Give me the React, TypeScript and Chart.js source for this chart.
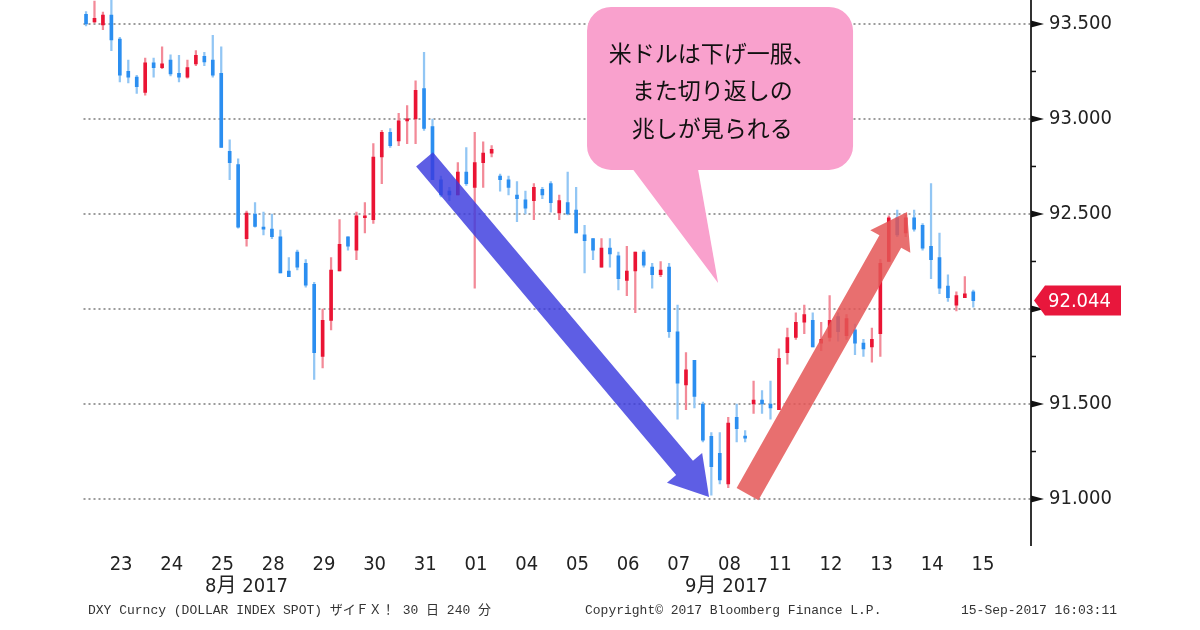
import React, { useEffect, useRef } from "react";
import { Chart, registerables } from "chart.js";

Chart.register(...registerables);

// ---- data (DXY, 240-minute bars) ----
const opens = [
  93.55, 93.51, 93.495, 93.547, 93.42, 93.25, 93.22, 93.14, 93.295, 93.27,
  93.31, 93.24, 93.22, 93.29, 93.33, 93.31, 93.24, 92.83, 92.76, 92.37,
  92.5, 92.43, 92.42, 92.38, 92.2, 92.3, 92.24, 92.13, 91.75, 91.94,
  92.2, 92.38, 92.31, 92.48, 92.47, 92.8, 92.93, 92.885, 92.99, 93.0,
  93.16, 92.96, 92.68, 92.62, 92.6, 92.72, 92.64, 92.77, 92.82, 92.7,
  92.68, 92.6, 92.575, 92.57, 92.63, 92.66, 92.505, 92.56, 92.52, 92.39,
  92.37, 92.22, 92.32, 92.28, 92.15, 92.2, 92.3, 92.22, 92.18, 92.22,
  91.88, 91.6, 91.73, 91.5, 91.33, 91.24, 91.08, 91.43, 91.33, 91.5,
  91.52, 91.5, 91.47, 91.77, 91.85, 91.93, 91.94, 91.82, 91.85, 91.96,
  91.86, 91.89, 91.82, 91.8, 91.87, 92.25, 92.48, 92.4, 92.48, 92.44,
  92.33, 92.27, 92.12, 92.02, 92.06, 92.09,
];
const highs = [
  93.565, 93.62, 93.563, 93.63, 93.43, 93.31, 93.23, 93.32, 93.32, 93.38,
  93.337, 93.335, 93.31, 93.36, 93.35, 93.44, 93.38, 92.89, 92.79, 92.515,
  92.56, 92.51, 92.5, 92.415, 92.27, 92.31, 92.26, 92.14, 92.0, 92.27,
  92.47, 92.38, 92.51, 92.56, 92.87, 92.94, 92.95, 93.03, 93.07, 93.2,
  93.35, 93.0, 92.7, 92.64, 92.77, 92.85, 92.93, 92.88, 92.86, 92.71,
  92.7, 92.67, 92.62, 92.66, 92.64, 92.67, 92.6, 92.72, 92.64, 92.44,
  92.37, 92.37, 92.37, 92.3, 92.33, 92.3, 92.31, 92.24, 92.25, 92.24,
  92.02, 91.77, 91.73, 91.51, 91.35, 91.35, 91.43, 91.5, 91.36, 91.62,
  91.57, 91.62, 91.79, 91.9, 91.98, 92.02, 91.98, 91.93, 92.07, 91.98,
  91.97, 91.92, 91.84, 91.9, 92.26, 92.49, 92.52, 92.5, 92.52, 92.45,
  92.66, 92.4, 92.18, 92.09, 92.17, 92.1,
];
const lows = [
  93.49, 93.505, 93.47, 93.36, 93.195, 93.19, 93.135, 93.125, 93.22, 93.265,
  93.226, 93.195, 93.215, 93.28, 93.28, 93.22, 92.85, 92.68, 92.425, 92.33,
  92.43, 92.39, 92.37, 92.19, 92.17, 92.205, 92.115, 91.63, 91.69, 91.89,
  92.2, 92.31, 92.26, 92.4, 92.45, 92.66, 92.85, 92.86, 92.87, 92.87,
  92.94, 92.68, 92.59, 92.57, 92.6, 92.65, 92.11, 92.64, 92.8, 92.62,
  92.6, 92.46, 92.5, 92.47, 92.58, 92.51, 92.47, 92.495, 92.4, 92.19,
  92.26, 92.22, 92.22, 92.1, 92.07, 91.98, 92.22, 92.11, 92.17, 91.85,
  91.42, 91.47, 91.48, 91.3, 91.02, 91.08, 91.06, 91.3, 91.3, 91.45,
  91.45, 91.42, 91.47, 91.71, 91.84, 91.87, 91.8, 91.78, 91.83, 91.83,
  91.84, 91.76, 91.75, 91.72, 91.75, 92.25, 92.38, 92.38, 92.41, 92.31,
  92.16, 92.08, 92.04, 91.99, 92.06, 92.01,
];
const closes = [
  93.5, 93.53, 93.547, 93.416, 93.23, 93.22, 93.17, 93.295, 93.27, 93.29,
  93.237, 93.22, 93.27, 93.335, 93.3, 93.23, 92.85, 92.77, 92.43, 92.505,
  92.435, 92.42, 92.38, 92.19, 92.17, 92.22, 92.125, 91.77, 91.94, 92.205,
  92.34, 92.33, 92.49, 92.49, 92.8, 92.93, 92.86, 92.99, 93.0, 93.15,
  92.95, 92.68, 92.6, 92.6, 92.72, 92.66, 92.77, 92.82, 92.84, 92.68,
  92.64, 92.58, 92.53, 92.64, 92.6, 92.56, 92.57, 92.5, 92.4, 92.36,
  92.31, 92.32, 92.29, 92.16, 92.2, 92.3, 92.23, 92.18, 92.205, 91.88,
  91.61, 91.68, 91.54, 91.31, 91.17, 91.1, 91.4, 91.37, 91.32, 91.52,
  91.5, 91.48, 91.74, 91.85, 91.93, 91.97, 91.8, 91.84, 91.94, 91.88,
  91.95, 91.82, 91.79, 91.84, 92.24, 92.48, 92.39, 92.48, 92.42, 92.32,
  92.26, 92.11, 92.06, 92.07, 92.08, 92.044,
];

const dayLabels = [
  "23", "24", "25", "28", "29", "30", "31", "01", "04",
  "05", "06", "07", "08", "11", "12", "13", "14", "15",
];
const barsPerDay = 6;
const firstDayCenter = 4.15;
const monthLabels = ["8月 2017", "9月 2017"];
const monthPositions = [19.0, 75.8];
const yTicks = [91.0, 91.5, 92.0, 92.5, 93.0, 93.5];
const yMinorTicks = [91.25, 91.75, 92.25, 92.75, 93.25];
const bubbleLines = ["米ドルは下げ一服、", "また切り返しの", "兆しが見られる"];
const footLeft = "DXY Curncy (DOLLAR INDEX SPOT) ザイＦＸ！ 30 日 240 分";
const footMid = "Copyright© 2017 Bloomberg Finance L.P.";
const footRight = "15-Sep-2017 16:03:11";

// ---- annotation anchors (bar index, price) ----
const blueArrow = { from: [40.06, 92.787], to: [73.73, 91.011], shaft: 22, headW: 46, headL: 38 };
const redArrow = { from: [78.28, 91.026], to: [97.16, 92.511], shaft: 25, headW: 46, headL: 34 };
const bubble = {
  left: 59.29, right: 90.77, top: 93.589, bottom: 92.732, radius: 24,
  tailA: 64.6, tailB: 72.4, tipX: 74.8, tipY: 92.137,
  textX: 74.1, lineY: [93.347, 93.153, 92.953],
};

const UP_BODY = "#ea1434";
const UP_WICK = "#f38a98";
const DN_BODY = "#2b8ef0";
const DN_WICK = "#92c6f4";
const AXIS_FONT = "'DejaVu Sans Condensed', 'DejaVu Sans', 'Noto Sans CJK JP', sans-serif";

function drawArrow(ctx: CanvasRenderingContext2D, x0: number, y0: number, x1: number, y1: number,
  shaft: number, headW: number, headL: number, color: string) {
  const dx = x1 - x0, dy = y1 - y0;
  const len = Math.hypot(dx, dy);
  const ux = dx / len, uy = dy / len;
  const nx = -uy, ny = ux;
  const bx = x1 - ux * headL, by = y1 - uy * headL;
  ctx.beginPath();
  ctx.moveTo(x0 + nx * shaft / 2, y0 + ny * shaft / 2);
  ctx.lineTo(bx + nx * shaft / 2, by + ny * shaft / 2);
  ctx.lineTo(bx + nx * headW / 2, by + ny * headW / 2);
  ctx.lineTo(x1, y1);
  ctx.lineTo(bx - nx * headW / 2, by - ny * headW / 2);
  ctx.lineTo(bx - nx * shaft / 2, by - ny * shaft / 2);
  ctx.lineTo(x0 - nx * shaft / 2, y0 - ny * shaft / 2);
  ctx.closePath();
  ctx.fillStyle = color;
  ctx.fill();
}

const decoPlugin = {
  id: "deco",
  afterDatasetsDraw(chart: any) {
    const ctx: CanvasRenderingContext2D = chart.ctx;
    const xs = chart.scales.x, ys = chart.scales.y;
    const px = (v: number) => xs.getPixelForValue(v);
    const py = (v: number) => ys.getPixelForValue(v);
    ctx.save();
    drawArrow(ctx, px(blueArrow.from[0]), py(blueArrow.from[1]), px(blueArrow.to[0]), py(blueArrow.to[1]),
      blueArrow.shaft, blueArrow.headW, blueArrow.headL, "rgba(58,58,222,0.82)");
    drawArrow(ctx, px(redArrow.from[0]), py(redArrow.from[1]), px(redArrow.to[0]), py(redArrow.to[1]),
      redArrow.shaft, redArrow.headW, redArrow.headL, "rgba(228,86,86,0.85)");

    // speech bubble
    const l = px(bubble.left), r = px(bubble.right), t = py(bubble.top), b = py(bubble.bottom);
    ctx.fillStyle = "#f9a1cd";
    ctx.beginPath();
    (ctx as any).roundRect(l, t, r - l, b - t, bubble.radius);
    ctx.fill();
    ctx.beginPath();
    ctx.moveTo(px(bubble.tailA), b - 2);
    ctx.lineTo(px(bubble.tipX), py(bubble.tipY));
    ctx.lineTo(px(bubble.tailB), b - 2);
    ctx.closePath();
    ctx.fill();
    ctx.fillStyle = "#111";
    ctx.font = "23px 'Noto Sans CJK JP', sans-serif";
    ctx.textAlign = "center";
    ctx.textBaseline = "middle";
    bubbleLines.forEach((line, k) => ctx.fillText(line, px(bubble.textX), py(bubble.lineY[k])));
    ctx.restore();
  },
  afterDraw(chart: any) {
    const ctx: CanvasRenderingContext2D = chart.ctx;
    const xs = chart.scales.x, ys = chart.scales.y;
    const ax = ys.left;
    ctx.save();
    // axis markers
    ctx.fillStyle = "#111";
    yTicks.forEach((v) => {
      const y = ys.getPixelForValue(v);
      ctx.beginPath();
      ctx.moveTo(ax, y - 3.5);
      ctx.lineTo(ax + 13, y);
      ctx.lineTo(ax, y + 3.5);
      ctx.closePath();
      ctx.fill();
    });
    yMinorTicks.forEach((v) => {
      const y = ys.getPixelForValue(v);
      ctx.fillRect(ax, y - 0.75, 5, 1.5);
    });
    // last price tag
    const last = closes[closes.length - 1];
    const ty = ys.getPixelForValue(last);
    ctx.fillStyle = "#e8173c";
    ctx.beginPath();
    ctx.moveTo(ax + 3, ty);
    ctx.lineTo(ax + 14, ty - 15);
    ctx.lineTo(ax + 90, ty - 15);
    ctx.lineTo(ax + 90, ty + 15);
    ctx.lineTo(ax + 14, ty + 15);
    ctx.closePath();
    ctx.fill();
    ctx.fillStyle = "#fff";
    ctx.font = "20px " + AXIS_FONT;
    ctx.textAlign = "left";
    ctx.textBaseline = "middle";
    ctx.fillText(last.toFixed(3), ax + 17, ty + 1);
    // month labels
    ctx.fillStyle = "#222";
    ctx.textAlign = "center";
    monthLabels.forEach((m, k) => ctx.fillText(m, xs.getPixelForValue(monthPositions[k]), 587));
    // footnote
    ctx.fillStyle = "#333";
    ctx.font = "13px 'Liberation Mono', 'DejaVu Sans Mono', 'Noto Sans CJK JP', monospace";
    ctx.textAlign = "left";
    ctx.fillText(footLeft, 88, 611);
    ctx.fillText(footMid, 585, 611);
    ctx.textAlign = "right";
    ctx.fillText(footRight, 1117, 611);
    ctx.restore();
  },
};

export default function App() {
  const ref = useRef<HTMLCanvasElement>(null);
  useEffect(() => {
    const canvas = ref.current;
    if (!canvas) return;
    const isUp = closes.map((c, i) => c >= opens[i]);
    const chart = new Chart(canvas, {
      type: "bar",
      data: {
        datasets: [
          {
            label: "body",
            data: opens.map((o, i) => ({ x: i, y: [o, closes[i]] })) as any,
            backgroundColor: isUp.map((u) => (u ? UP_BODY : DN_BODY)),
            barThickness: 3,
            minBarLength: 2,
            grouped: false,
            order: 0,
          } as any,
          {
            label: "wick",
            data: lows.map((lo, i) => ({ x: i, y: [lo, highs[i]] })) as any,
            backgroundColor: isUp.map((u) => (u ? UP_WICK : DN_WICK)),
            barThickness: 1.6,
            grouped: false,
            order: 1,
          } as any,
        ],
      },
      options: {
        animation: false,
        responsive: false,
        maintainAspectRatio: false,
        layout: { padding: { left: 83.5, right: 0, top: 0, bottom: 0 } },
        plugins: { legend: { display: false }, tooltip: { enabled: false } },
        scales: {
          x: {
            type: "linear",
            min: -0.3,
            max: 111.83,
            offset: false,
            grid: { display: false, drawTicks: false, offset: false },
            border: { display: false },
            afterBuildTicks: (s: any) => {
              s.ticks = dayLabels.map((_, k) => ({ value: firstDayCenter + k * barsPerDay }));
            },
            afterFit: (s: any) => {
              s.height = 85;
              s.paddingLeft = 0;
              s.paddingRight = 0;
            },
            ticks: {
              autoSkip: false,
              maxRotation: 0,
              padding: 8,
              color: "#222",
              font: { family: AXIS_FONT, size: 20 },
              callback: (_v: any, i: number) => dayLabels[i],
            },
          },
          y: {
            type: "linear",
            position: "right",
            min: 90.758,
            max: 93.626,
            grid: { display: true, color: "#9c9c9c", lineWidth: 2, drawTicks: false },
            border: { display: true, color: "#333", width: 2, dash: [2, 3] },
            afterBuildTicks: (s: any) => {
              s.ticks = yTicks.map((v) => ({ value: v }));
            },
            afterFit: (s: any) => {
              s.width = 169;
              s.paddingTop = 0;
              s.paddingBottom = 0;
            },
            ticks: {
              padding: 18,
              color: "#222",
              font: { family: AXIS_FONT, size: 20 },
              callback: (v: any) => Number(v).toFixed(3),
            },
          },
        },
      },
      plugins: [decoPlugin],
    } as any);
    return () => chart.destroy();
  }, []);
  return (
    <div style={{ position: "absolute", left: 0, top: 0, width: 1200, height: 630, background: "#fff" }}>
      <canvas ref={ref} width={1200} height={630} style={{ display: "block", width: 1200, height: 630 }} />
    </div>
  );
}
